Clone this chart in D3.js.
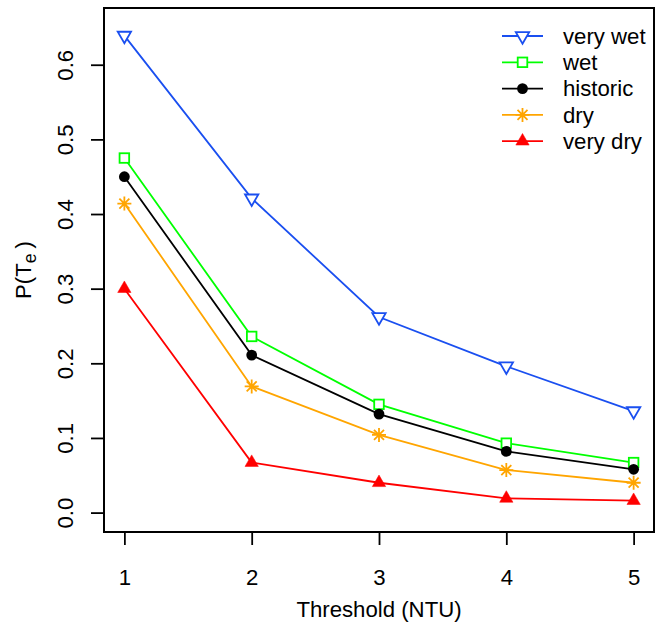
<!DOCTYPE html>
<html>
<head>
<meta charset="utf-8">
<script src="https://cdn.jsdelivr.net/npm/d3@7"></script>
<style>
  html, body { margin: 0; padding: 0; background: #fff; }
  svg { display: block; font-family: "Liberation Sans", Arial, Helvetica, sans-serif; }
</style>
</head>
<body>
<svg id="chart" width="655" height="629"></svg>
<script>
// Threshold levels (NTU) and probability of exceedance per climate scenario
const thresholds = [1, 2, 3, 4, 5];
const veryWet  = [0.639, 0.421, 0.262, 0.196, 0.136];
const wet      = [0.475, 0.236, 0.145, 0.093, 0.067];
const historic = [0.450, 0.211, 0.132, 0.082, 0.058];
const dry      = [0.414, 0.169, 0.104, 0.057, 0.040];
const veryDry  = [0.300, 0.067, 0.040, 0.019, 0.016];

const seriesNames = ["very wet", "wet", "historic", "dry", "very dry"];
const seriesColors = ["#1a4ff0", "#00ff00", "#000000", "#ffa500", "#ff0000"];
const seriesShapes = ["triDownOpen", "squareOpen", "circleFilled", "asterisk", "triUpFilled"];
const seriesValues = [veryWet, wet, historic, dry, veryDry];

const yTicks = [0.0, 0.1, 0.2, 0.3, 0.4, 0.5, 0.6];
const xLabel = "Threshold (NTU)";

const svg = d3.select("#chart");
const plot = { left: 104, right: 654, top: 8, bottom: 532 };

// axis ranges padded by 4% on each side, like base R graphics
const x = d3.scaleLinear().domain([0.84, 5.16]).range([plot.left, plot.right]);
const y = d3.scaleLinear().domain([-0.026, 0.676]).range([plot.bottom, plot.top]);

const LW = 1.8;
const R = 5.4;

function drawSymbol(g, shape, cx, cy, color) {
  if (shape === "circleFilled") {
    g.append("circle").attr("cx", cx).attr("cy", cy).attr("r", R)
      .attr("fill", color);
  } else if (shape === "squareOpen") {
    const h = R * 0.886;
    g.append("rect").attr("x", cx - h).attr("y", cy - h)
      .attr("width", 2 * h).attr("height", 2 * h)
      .attr("fill", "#fff").attr("stroke", color).attr("stroke-width", LW);
  } else if (shape === "triDownOpen" || shape === "triUpFilled") {
    const r = 7.7, xc = r * Math.sqrt(3) / 2, yc = r / 2;
    const s = shape === "triDownOpen" ? 1 : -1;
    const pts = [[cx, cy + s * r], [cx + xc, cy - s * yc], [cx - xc, cy - s * yc]];
    const p = g.append("path").attr("d", "M" + pts.join("L") + "Z");
    if (shape === "triDownOpen") {
      p.attr("fill", "#fff").attr("stroke", color).attr("stroke-width", LW)
        .attr("stroke-linejoin", "miter");
    } else {
      p.attr("fill", color).attr("stroke", color).attr("stroke-width", 0.5);
    }
  } else if (shape === "asterisk") {
    const a = 7, b = 5;
    const d = `M${cx - a},${cy}L${cx + a},${cy}M${cx},${cy - a}L${cx},${cy + a}` +
              `M${cx - b},${cy - b}L${cx + b},${cy + b}M${cx - b},${cy + b}L${cx + b},${cy - b}`;
    g.append("path").attr("d", d).attr("stroke", color).attr("stroke-width", LW)
      .attr("fill", "none");
  }
}

// series lines and markers
const line = d3.line().x((d, i) => x(thresholds[i])).y(d => y(d));
seriesValues.forEach((vals, k) => {
  const g = svg.append("g");
  g.append("path").datum(vals).attr("d", line)
    .attr("fill", "none").attr("stroke", seriesColors[k]).attr("stroke-width", LW);
  vals.forEach((v, i) => drawSymbol(g, seriesShapes[k], x(thresholds[i]), y(v), seriesColors[k]));
});

// plot frame
svg.append("rect")
  .attr("x", plot.left).attr("y", plot.top)
  .attr("width", plot.right - plot.left).attr("height", plot.bottom - plot.top)
  .attr("fill", "none").attr("stroke", "#000").attr("stroke-width", 2);

const fontSize = 22.2;
const fontFam = "Liberation Sans, Arial, sans-serif";

// bottom axis
const xAxis = svg.append("g").attr("transform", `translate(0,${plot.bottom})`)
  .call(d3.axisBottom(x).tickValues(thresholds).tickSize(13).tickFormat(d3.format("d")));
xAxis.select(".domain").remove();
xAxis.selectAll(".tick line").attr("stroke", "#000").attr("stroke-width", 1.8);
xAxis.selectAll(".tick text").attr("y", 53).attr("dy", 0)
  .attr("font-size", fontSize).attr("font-family", fontFam).attr("fill", "#000");

// left axis, labels rotated parallel to the axis
const yAxis = svg.append("g").attr("transform", `translate(${plot.left},0)`)
  .call(d3.axisLeft(y).tickValues(yTicks).tickSize(13).tickFormat(d3.format(".1f")));
yAxis.select(".domain").remove();
yAxis.selectAll(".tick line").attr("stroke", "#000").attr("stroke-width", 1.8);
yAxis.selectAll(".tick text")
  .attr("x", 0).attr("dy", 0)
  .attr("transform", "translate(-31,0) rotate(-90)")
  .attr("text-anchor", "middle")
  .attr("font-size", fontSize).attr("font-family", fontFam).attr("fill", "#000");

// axis titles
svg.append("text").attr("x", (plot.left + plot.right) / 2).attr("y", 617)
  .attr("text-anchor", "middle").attr("font-size", fontSize).text(xLabel);

const yTitle = svg.append("text")
  .attr("transform", `translate(31,${(plot.top + plot.bottom) / 2}) rotate(-90)`)
  .attr("text-anchor", "middle").attr("font-size", fontSize);
yTitle.append("tspan").text("P(T");
yTitle.append("tspan").attr("font-size", fontSize * 0.8).attr("dy", 5).text("e");
yTitle.append("tspan").attr("dy", -5).attr("dx", 5).text(")");

// legend
const legend = svg.append("g");
seriesNames.forEach((name, k) => {
  const cy = 36 + k * 26.3;
  legend.append("line").attr("x1", 502).attr("x2", 543).attr("y1", cy).attr("y2", cy)
    .attr("stroke", seriesColors[k]).attr("stroke-width", LW);
  drawSymbol(legend, seriesShapes[k], 522.5, cy, seriesColors[k]);
  legend.append("text").attr("x", 563).attr("y", cy).attr("dy", "0.35em")
    .attr("font-size", fontSize).text(name);
});
</script>
</body>
</html>
